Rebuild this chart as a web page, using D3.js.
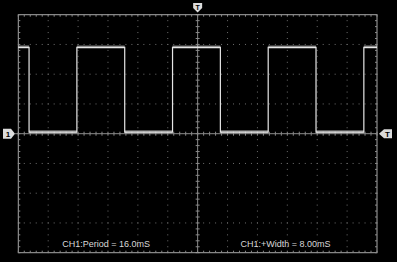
<!DOCTYPE html>
<html><head><meta charset="utf-8">
<script src="https://cdn.jsdelivr.net/npm/d3@7"></script>
<style>html,body{margin:0;padding:0;background:#000;}svg{display:block;}</style>
</head><body>
<script>
// ---- data ----
const timeDomain = [-30, 30];          // ms, 5 ms/div, 12 divisions
const voltDomain = [-4, 4];            // divisions, 8 divisions
const risingEdges = [-20.2, -4.2, 11.8, 27.8];   // ms
const fallingEdges = [-28.2, -12.2, 3.8, 19.8];  // ms
const highLevel = [2.9];               // div
const lowLevel = [0.05];               // div
const measureLabels = ["CH1:Period = 16.0mS", "CH1:+Width = 8.00mS"];
const measureTimes = [-15.3, 14.7];    // ms, label centres

const W = 397, H = 262;
const svg = d3.select("body").append("svg").attr("width", W).attr("height", H)
  .style("background", "#000");

const x = d3.scaleLinear().domain(timeDomain).range([18.3, 377]);
const y = d3.scaleLinear().domain(voltDomain).range([252.7, 14.7]);

const gridCol = "#6e6e6e";
const g = svg.append("g");

// dotted interior grid
const xDivs = d3.range(-30, 30.001, 5);
const yDivs = d3.range(-4, 4.001, 1);
const xSub = d3.range(-30, 30.001, 1);
const ySub = d3.range(-4, 4.001, 0.2);
xDivs.filter(d => d !== 0 && Math.abs(d) !== 30).forEach(t => {
  g.selectAll(null).data(ySub).enter().append("rect")
    .attr("x", x(t) - 0.5).attr("y", d => y(d) - 0.5).attr("width", 1).attr("height", 1)
    .attr("fill", gridCol);
});
yDivs.filter(d => d !== 0 && Math.abs(d) !== 4).forEach(v => {
  g.selectAll(null).data(xSub).enter().append("rect")
    .attr("x", d => x(d) - 0.5).attr("y", y(v) - 0.5).attr("width", 1).attr("height", 1)
    .attr("fill", gridCol);
});

// center axes with ticks
g.append("line").attr("x1", x(0)).attr("x2", x(0)).attr("y1", y(4)).attr("y2", y(-4))
  .attr("stroke", "#8a8a8a").attr("stroke-width", 1);
g.append("line").attr("x1", 15).attr("x2", x(30)).attr("y1", y(0)).attr("y2", y(0))
  .attr("stroke", "#8a8a8a").attr("stroke-width", 1);
g.selectAll(null).data(ySub).enter().append("line")
  .attr("x1", x(0) - 2).attr("x2", x(0) + 2).attr("y1", d => y(d)).attr("y2", d => y(d))
  .attr("stroke", "#8a8a8a");
g.selectAll(null).data(xSub).enter().append("line")
  .attr("y1", y(0) - 2).attr("y2", y(0) + 2).attr("x1", d => x(d)).attr("x2", d => x(d))
  .attr("stroke", "#8a8a8a");

// border with inner ticks
g.append("rect").attr("x", x(-30)).attr("y", y(4)).attr("width", x(30) - x(-30))
  .attr("height", y(-4) - y(4)).attr("fill", "none").attr("stroke", "#a8a8a8");
[[y(4), 2], [y(-4), -2]].forEach(([yy, dd]) => {
  g.selectAll(null).data(xSub).enter().append("line")
    .attr("x1", d => x(d)).attr("x2", d => x(d)).attr("y1", yy).attr("y2", yy + dd)
    .attr("stroke", "#8a8a8a");
});
[[x(-30), 2], [x(30), -2]].forEach(([xx, dd]) => {
  g.selectAll(null).data(ySub).enter().append("line")
    .attr("y1", d => y(d)).attr("y2", d => y(d)).attr("x1", xx).attr("x2", xx + dd)
    .attr("stroke", "#8a8a8a");
});

// square wave trace
const edges = risingEdges.map(t => ({t, up: true}))
  .concat(fallingEdges.map(t => ({t, up: false})))
  .sort((a, b) => a.t - b.t);
const hi = highLevel[0], lo = lowLevel[0];
let level = edges[0].up ? lo : hi;
const pts = [[timeDomain[0], level]];
const flats = [];
let start = timeDomain[0];
edges.forEach(e => {
  flats.push([start, e.t, level]);
  pts.push([e.t, level]);
  level = e.up ? hi : lo;
  pts.push([e.t, level]);
  start = e.t;
});
flats.push([start, timeDomain[1], level]);
pts.push([timeDomain[1], level]);

const line = d3.line().x(d => x(d[0])).y(d => y(d[1]));
// noisy band look on flat parts
svg.append("g").selectAll("line").data(flats).enter().append("line")
  .attr("x1", d => x(d[0])).attr("x2", d => x(d[1]))
  .attr("y1", d => y(d[2]) - 0.5).attr("y2", d => y(d[2]) - 0.5)
  .attr("stroke", "#d8d8d8").attr("stroke-width", 3).attr("stroke-opacity", 0.55);
svg.append("path").attr("d", line(pts)).attr("fill", "none")
  .attr("stroke", "#e6e6e6").attr("stroke-width", 1.2);

// markers
const mk = svg.append("g");
// channel 1 ground marker (left)
mk.append("path").attr("d", `M3,${y(0)-5} L11,${y(0)-5} L15,${y(0)} L11,${y(0)+5} L3,${y(0)+5} Z`)
  .attr("fill", "#dcdcdc");
mk.append("text").attr("x", 8).attr("y", y(0) + 3.3).attr("text-anchor", "middle")
  .attr("font-family", "Liberation Sans, Arial, sans-serif").attr("font-size", 8).attr("font-weight", "bold")
  .attr("fill", "#000").text("1");
// trigger level marker (right)
mk.append("path").attr("d", `M379,${y(0)} L384,${y(0)-4.5} L392,${y(0)-4.5} L392,${y(0)+4.5} L384,${y(0)+4.5} Z`)
  .attr("fill", "#dcdcdc");
mk.append("text").attr("x", 387.5).attr("y", y(0) + 3.2).attr("text-anchor", "middle")
  .attr("font-family", "Liberation Sans, Arial, sans-serif").attr("font-size", 8).attr("font-weight", "bold")
  .attr("fill", "#000").text("T");
// trigger position marker (top)
const cx = x(0);
mk.append("path").attr("d", `M${cx-4.5},3 L${cx+4.5},3 L${cx+4.5},8 L${cx},12.5 L${cx-4.5},8 Z`)
  .attr("fill", "#dcdcdc");
mk.append("text").attr("x", cx).attr("y", 9.5).attr("text-anchor", "middle")
  .attr("font-family", "Liberation Sans, Arial, sans-serif").attr("font-size", 7).attr("font-weight", "bold")
  .attr("fill", "#000").text("T");

// measurement labels
svg.append("g").selectAll("text").data(measureLabels).enter().append("text")
  .attr("x", (d, i) => x(measureTimes[i])).attr("y", 246.5).attr("text-anchor", "middle")
  .attr("font-family", "Liberation Sans, Arial, sans-serif").attr("font-size", 9)
  .attr("fill", "#d8d8d8").text(d => d);
</script>
</body></html>
